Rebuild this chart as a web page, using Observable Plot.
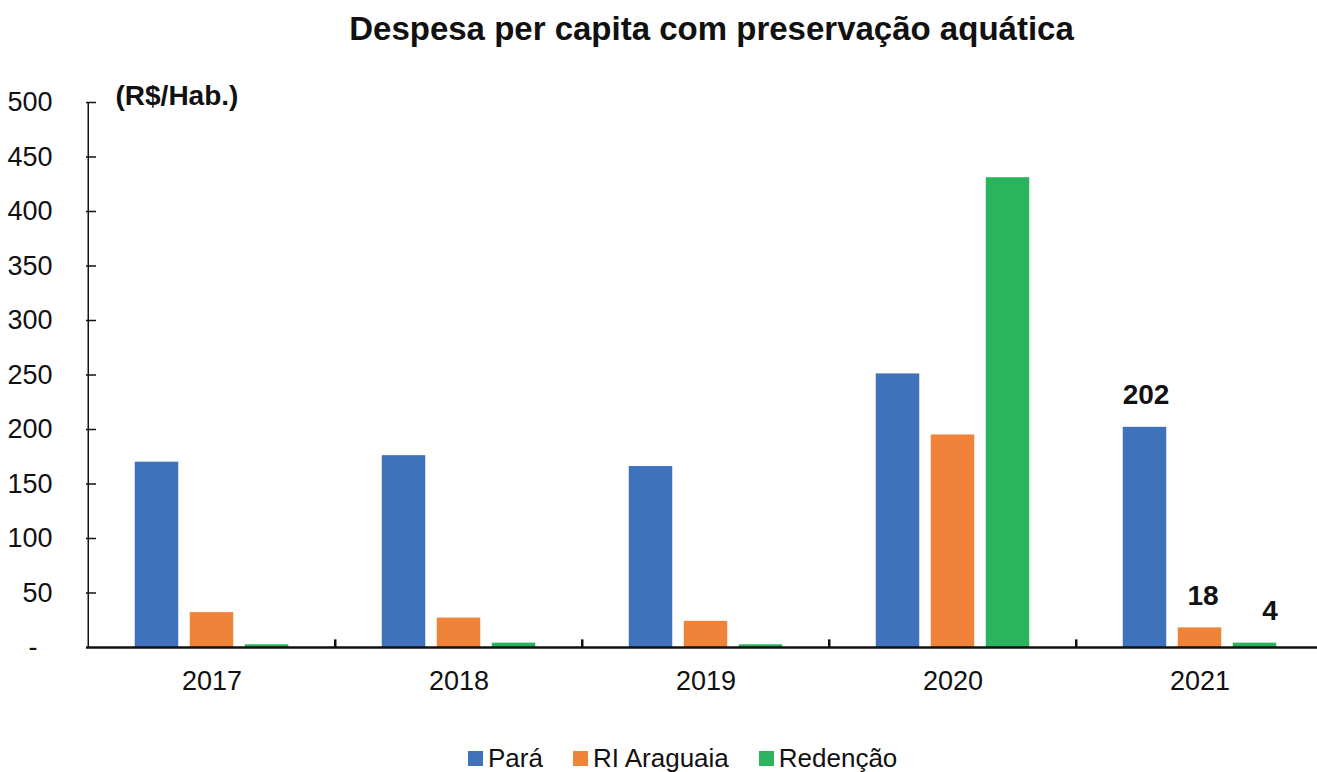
<!DOCTYPE html>
<html><head><meta charset="utf-8">
<script src="https://cdn.jsdelivr.net/npm/d3@7"></script>
<script src="https://cdn.jsdelivr.net/npm/@observablehq/plot@0.6"></script>
<style>
body{margin:0;background:#fff;font-family:"Liberation Sans Narrow","Arial Narrow","Liberation Sans",Arial,sans-serif;color:#111}
#wrap{width:1317px;height:772px;overflow:hidden;position:relative;background:#fff}
#title{height:70px;box-sizing:border-box;padding-top:12px;padding-left:106px;line-height:1;font-size:33px;font-weight:bold;text-align:center;white-space:nowrap}
#legend{height:42px;box-sizing:border-box;padding-top:14px;padding-left:468px;display:flex;align-items:center;font-size:26px;line-height:30px;white-space:nowrap}
.item{display:flex;align-items:center;margin-right:30px}
.sw{width:15px;height:15px;margin-right:5px;display:inline-block}
svg{display:block}
</style></head>
<body><div id="wrap"><div id="title"></div><div id="chart"></div><div id="legend"></div></div>
<script>
const titleText = "Despesa per capita com preservação aquática";
const unitLabel = "(R$/Hab.)";
const years = ["2017", "2018", "2019", "2020", "2021"];
const series = ["Pará", "RI Araguaia", "Redenção"];
const para = [170, 176, 166, 251, 202];
const araguaia = [32, 27, 24, 195, 18];
const redencao = [2.5, 4, 2.5, 431, 4];
const colors = ["#3F72BA", "#F0833A", "#2CB35E"];
const yTicks = [0, 50, 100, 150, 200, 250, 300, 350, 400, 450, 500];
const labelYear = "2021";
const labelTexts = ["202", "18", "4"];

const values = [para, araguaia, redencao];
const rows = years.flatMap((yr, i) => series.map((s, j) => ({year: yr, series: s, value: values[j][i]})));

document.getElementById("title").textContent = titleText;

const W = 1317, H = 660, mL = 86, mR = 0, mT = 32, mB = 83;
const xRange = [86.25, 1323.75];
const band = (xRange[1] - xRange[0]) / years.length;
const barW = 44;
const offsets = [-55, 0, 55];
const labelExtra = [1, 3, 15];
const inset = (band - barW) / 2;
const font = '"Liberation Sans Narrow","Arial Narrow","Liberation Sans",Arial,sans-serif';

const marks = [];
series.forEach((s, j) => {
  marks.push(Plot.barY(rows.filter(r => r.series === s), {
    x: "year", y: "value", fill: "series", dx: offsets[j], insetLeft: inset, insetRight: inset
  }));
});
series.forEach((s, j) => {
  marks.push(Plot.text(rows.filter(r => r.series === s && r.year === labelYear), {
    x: "year", y: "value", text: () => labelTexts[j], dx: offsets[j] + labelExtra[j], dy: -23,
    lineAnchor: "bottom", fontWeight: "bold", fontSize: 28, fill: "#111"
  }));
});
marks.push(
  Plot.ruleY(yTicks.filter(d => d > 0), {y: d => d, insetRight: (W - mL - mR) - 10, stroke: "#111", strokeWidth: 1.5}),
  Plot.ruleX([years[0]], {x: d => d, dx: -band / 2, y1: 0, y2: 500, stroke: "#111", strokeWidth: 1.5}),
  Plot.ruleX(years.slice(1), {x: d => d, dx: -band / 2, y1: 0, y2: 7, stroke: "#111", strokeWidth: 2.5}),
  Plot.ruleY([0], {stroke: "#111", strokeWidth: 2.5}),
  Plot.axisY({ticks: yTicks, tickSize: 0, tickPadding: 34, label: null, fontSize: 27,
    tickFormat: d => d === 0 ? "-\u2007" : String(d)}),
  Plot.axisX({tickSize: 0, tickPadding: 23, label: null, fontSize: 27}),
  Plot.text([unitLabel], {frameAnchor: "top-left", dx: 29, dy: -6, lineAnchor: "middle", textAnchor: "start",
    fontWeight: "bold", fontSize: 28, fill: "#111"})
);

const chart = Plot.plot({
  width: W, height: H, marginTop: mT, marginBottom: mB, marginLeft: mL, marginRight: mR,
  style: {fontFamily: font, fontSize: "27px", color: "#111", background: "#fff", overflow: "visible"},
  x: {domain: years, range: xRange, padding: 0},
  y: {domain: [0, 500]},
  color: {domain: series, range: colors},
  marks
});
document.getElementById("chart").appendChild(chart);

const legend = document.getElementById("legend");
series.forEach((s, j) => {
  const it = document.createElement("div");
  it.className = "item";
  const sw = document.createElement("span");
  sw.className = "sw"; sw.style.background = colors[j];
  const tx = document.createElement("span");
  tx.textContent = s;
  it.appendChild(sw); it.appendChild(tx);
  legend.appendChild(it);
});
</script></body></html>
